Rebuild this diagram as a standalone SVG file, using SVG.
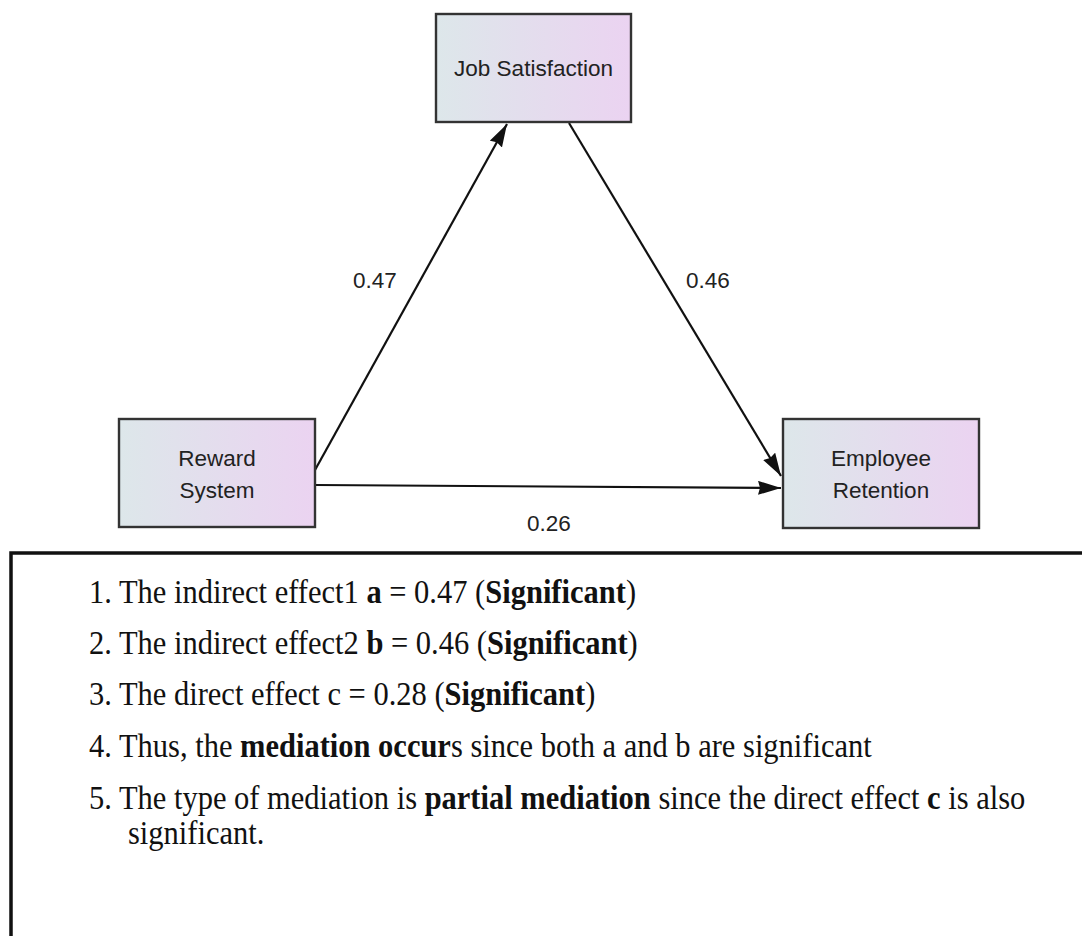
<svg xmlns="http://www.w3.org/2000/svg" width="1082" height="936" viewBox="0 0 1082 936">
<style>
.box{stroke:#333;stroke-width:2.4;fill:url(#g)}
.nt{font-family:"Liberation Sans",Arial,sans-serif;font-size:22.5px;fill:#222;text-anchor:middle}
.lb{font-family:"Liberation Sans",Arial,sans-serif;font-size:22.5px;fill:#222;text-anchor:middle}
.edge{stroke:#111;stroke-width:2.2;fill:none;marker-end:url(#ah)}
.tx{font-family:"Liberation Serif","Times New Roman",serif;font-size:30.5px;fill:#111}
.b{font-weight:bold}
</style>
<defs>
<linearGradient id="g" x1="0" y1="0" x2="1" y2="0">
<stop offset="0" stop-color="#dde7ea"/>
<stop offset="1" stop-color="#ebd3f1"/>
</linearGradient>
<marker id="ah" markerUnits="userSpaceOnUse" markerWidth="26" markerHeight="16" refX="23" refY="7" orient="auto">
<path d="M0,0 L23,7 L0,14 L2,7 Z" fill="#111"/>
</marker>
</defs>
<rect width="1082" height="936" fill="#fff"/>
<g id="connectors">
<line class="edge" x1="315" y1="470" x2="507" y2="124"/>
<line class="edge" x1="569" y1="123" x2="781" y2="476"/>
<line class="edge" x1="316" y1="485" x2="781" y2="488"/>
</g>
<g id="edge-labels">
<text class="lb" x="375" y="288">0.47</text>
<text class="lb" x="708" y="288">0.46</text>
<text class="lb" x="549" y="531">0.26</text>
</g>
<g id="job-satisfaction">
<rect class="box" x="436" y="14" width="195" height="108"/>
<text class="nt" x="533.5" y="76">Job Satisfaction</text>
</g>
<g id="reward-system">
<rect class="box" x="119" y="419" width="196" height="108"/>
<text class="nt" x="217" y="466">Reward</text>
<text class="nt" x="217" y="498">System</text>
</g>
<g id="employee-retention">
<rect class="box" x="783" y="419" width="196" height="109"/>
<text class="nt" x="881" y="466">Employee</text>
<text class="nt" x="881" y="498">Retention</text>
</g>
<g id="notes">
<path d="M11,936 V553 H1082" fill="none" stroke="#111" stroke-width="3.5"/>
<text class="tx" x="89" y="603" transform="matrix(1,0,0,1.08,0,-48.24)">1. The indirect effect1 <tspan class="b">a</tspan> = 0.47 (<tspan class="b">Significant</tspan>)</text>
<text class="tx" x="89" y="654" transform="matrix(1,0,0,1.08,0,-52.32)">2. The indirect effect2 <tspan class="b">b</tspan> = 0.46 (<tspan class="b">Significant</tspan>)</text>
<text class="tx" x="89" y="705" transform="matrix(1,0,0,1.08,0,-56.4)">3. The direct effect c = 0.28 (<tspan class="b">Significant</tspan>)</text>
<text class="tx" x="89" y="757" transform="matrix(1,0,0,1.08,0,-60.56)">4. Thus, the <tspan class="b">mediation occur</tspan>s since both a and b are significant</text>
<text class="tx" x="89" y="809" transform="matrix(1,0,0,1.08,0,-64.72)">5. The type of mediation is <tspan class="b">partial mediation</tspan> since the direct effect <tspan class="b">c</tspan> is also</text>
<text class="tx" x="128" y="844" transform="matrix(1,0,0,1.08,0,-67.52)">significant.</text>
</g>
</svg>
